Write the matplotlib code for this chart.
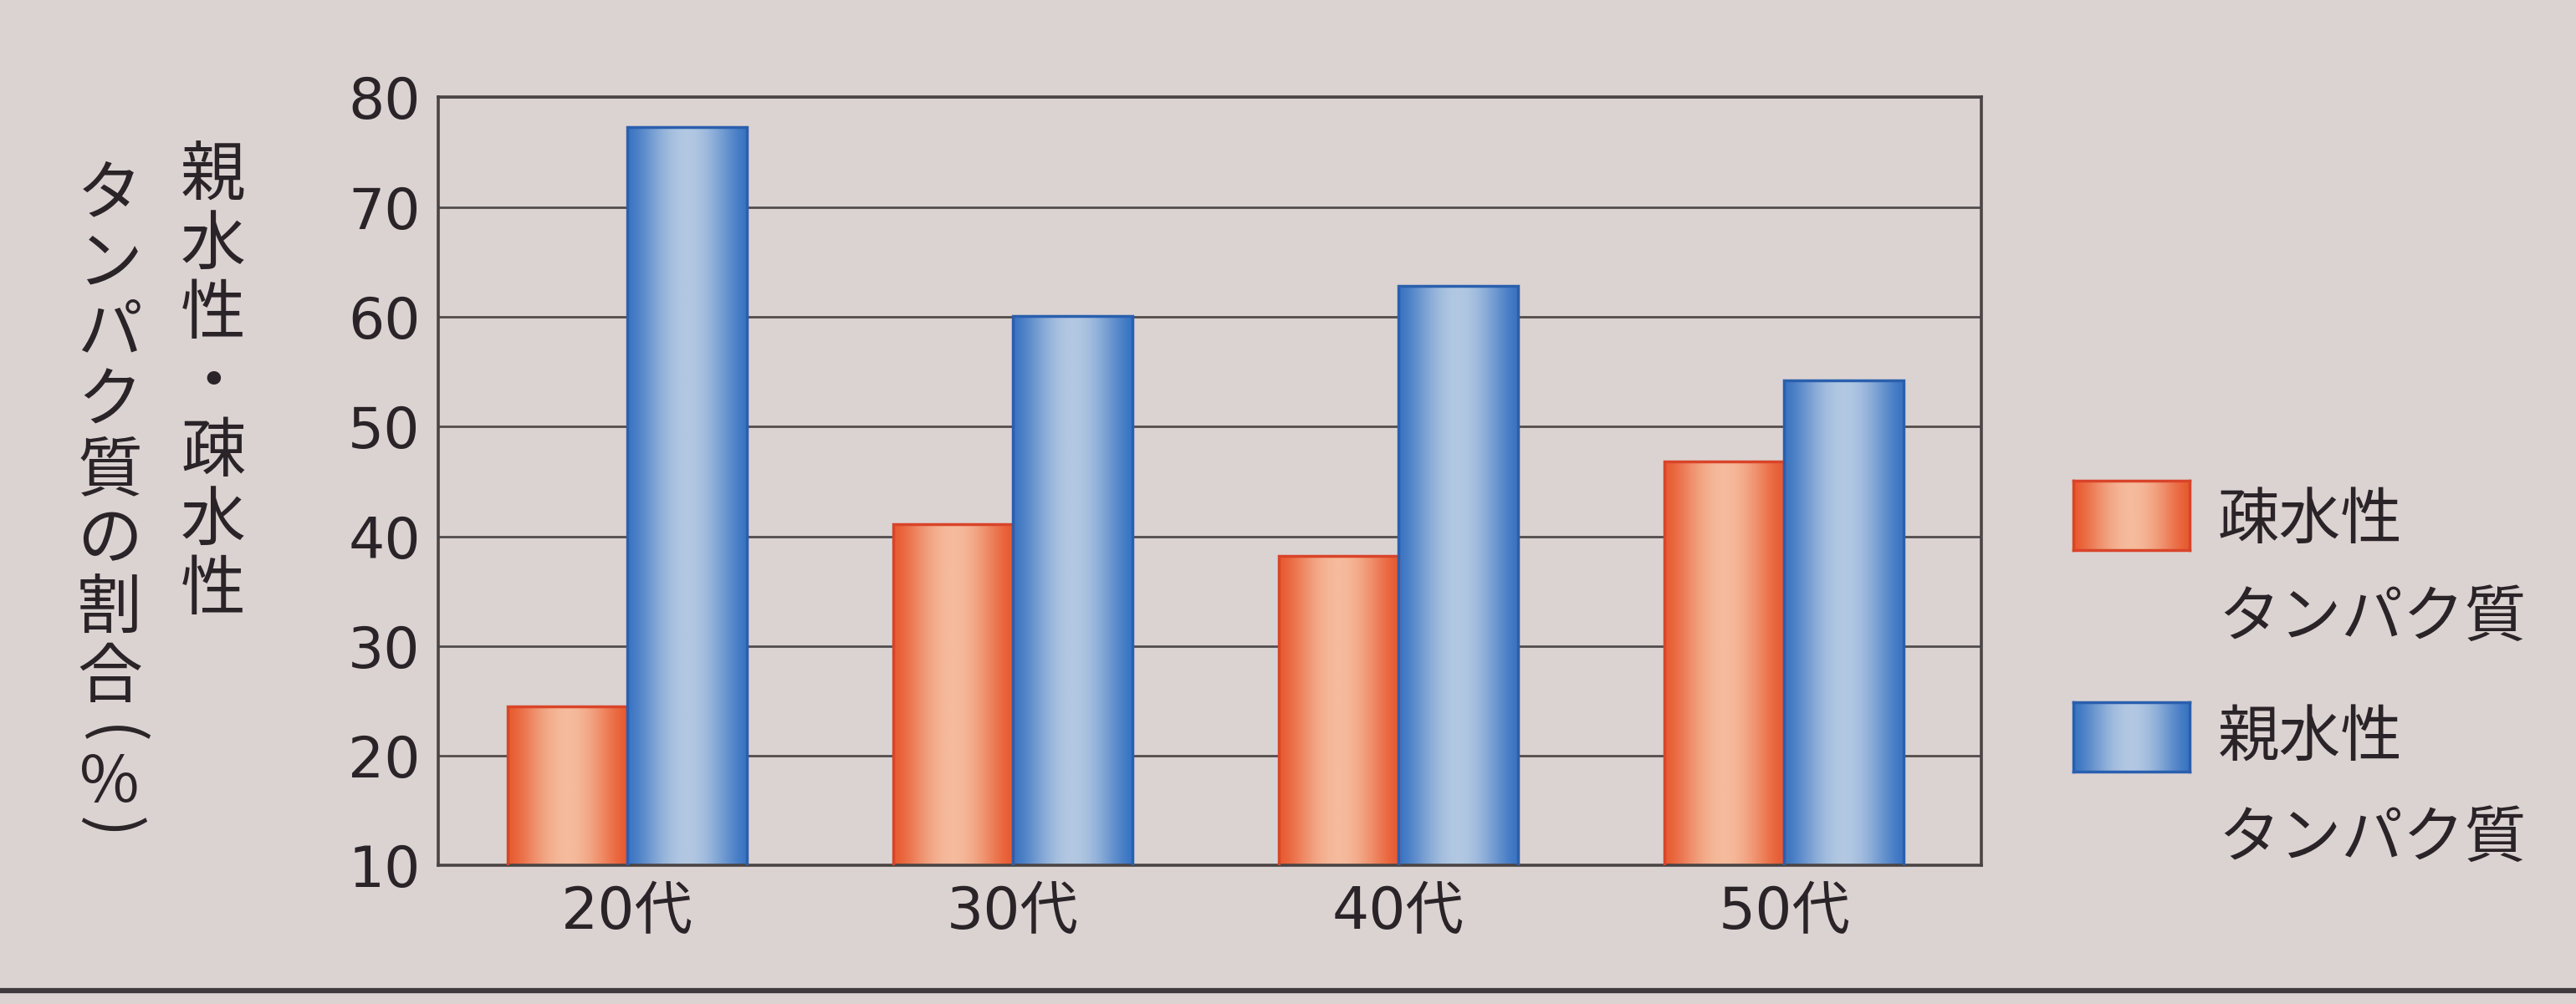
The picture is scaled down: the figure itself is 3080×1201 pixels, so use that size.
import numpy as np
import matplotlib
matplotlib.use("Agg")
import matplotlib.pyplot as plt
from matplotlib.colors import LinearSegmentedColormap
from matplotlib.lines import Line2D

plt.rcParams['font.family'] = ['Noto Sans CJK JP', 'DejaVu Sans']

# data
ages = ['20代', '30代', '40代', '50代']
hydrophobic = [24.5, 41.1, 38.2, 46.8]   # 疎水性タンパク質
hydrophilic = [77.3, 60.1, 62.8, 54.2]   # 親水性タンパク質
yticks = [10, 20, 30, 40, 50, 60, 70, 80]

bg = '#dbd3d2'
ink = '#2a2428'
orange_cmap = LinearSegmentedColormap.from_list('o', ['#e85a30', '#f5bb9c'])
blue_cmap = LinearSegmentedColormap.from_list('b', ['#3a74c2', '#b2c8e2'])
orange_edge = '#d9442a'
blue_edge = '#2a5fae'


def gradient(ax, patch, cmap):
    x0, y0 = patch.get_x(), patch.get_y()
    w, h = patch.get_width(), patch.get_height()
    ylo = max(y0, ax.get_ylim()[0])
    t = np.linspace(0, 1, 200)
    prof = np.sin(np.pi * t) ** 1.4
    im = ax.imshow(prof[None, :], cmap=cmap, vmin=0, vmax=1, aspect='auto',
                   extent=[x0, x0 + w, ylo, y0 + h], origin='lower', zorder=2.5)
    im.set_clip_path(patch)


fig = plt.figure(figsize=(30.8, 12.01), dpi=100, facecolor=bg)
ax = fig.add_axes([0.170, 0.138, 0.599, 0.765])
ax.set_facecolor(bg)

x = np.arange(len(ages))
w = 0.31
ax.set_xlim(-0.49, 3.51)
ax.set_ylim(10, 80)
b1 = ax.bar(x - w / 2, hydrophobic, w, facecolor='none', edgecolor=orange_edge, linewidth=2.5, zorder=3)
b2 = ax.bar(x + w / 2, hydrophilic, w, facecolor='none', edgecolor=blue_edge, linewidth=2.5, zorder=3)
for p in b1:
    gradient(ax, p, orange_cmap)
for p in b2:
    gradient(ax, p, blue_cmap)

ax.set_xlim(-0.49, 3.51)
ax.set_ylim(10, 80)
ax.set_yticks(yticks)
ax.set_xticks(x)
ax.set_xticklabels(ages, family=['DejaVu Sans', 'Noto Sans CJK JP'])
ax.tick_params(axis='y', length=0, pad=15, labelsize=49, labelcolor=ink)
ax.tick_params(axis='x', length=0, pad=16, labelsize=50, labelcolor=ink)
for lab in ax.get_yticklabels():
    lab.set_family(['DejaVu Sans'])
ax.yaxis.grid(True, color='#524c4c', linewidth=2.0)
ax.set_axisbelow(True)
for s in ax.spines.values():
    s.set_color('#4a4444')
    s.set_linewidth(2.6)

# vertical y-axis title, two columns
fig.text(255 / 3080, 1 - 172 / 1201, '\n'.join('親水性・疎水性'), ha='center', va='top',
         fontsize=56, color=ink, linespacing=1.05)
fig.text(131 / 3080, 1 - 194 / 1201, '\n'.join('タンパク質の割合'), ha='center', va='top',
         fontsize=56, color=ink, linespacing=1.05)
fig.text(131 / 3080, 1 - 880 / 1201, '(', rotation=-90, ha='center', va='center',
         fontsize=56, color=ink)
fig.text(131 / 3080, 1 - 937 / 1201, '%', ha='center', va='center',
         fontsize=56, color=ink)
fig.text(131 / 3080, 1 - 990 / 1201, ')', rotation=-90, ha='center', va='center',
         fontsize=56, color=ink)

# legend
entries = [(orange_cmap, orange_edge, '疎水性', 575, 623, 740),
           (blue_cmap, blue_edge, '親水性', 840, 884, 1004)]
for cmap, edge, name, top, y1, y2 in entries:
    lax = fig.add_axes([2479 / 3080, 1 - (top + 83) / 1201, 139 / 3080, 83 / 1201])
    t = np.linspace(0, 1, 200)
    lax.imshow((np.sin(np.pi * t) ** 1.4)[None, :], cmap=cmap, vmin=0, vmax=1, aspect='auto')
    lax.set_xticks([])
    lax.set_yticks([])
    for s in lax.spines.values():
        s.set_color(edge)
        s.set_linewidth(2.5)
    fig.text(2652 / 3080, 1 - y1 / 1201, name, ha='left', va='center', fontsize=53, color=ink)
    fig.text(2652 / 3080, 1 - y2 / 1201, 'タンパク質', ha='left', va='center', fontsize=53, color=ink)

fig.add_artist(Line2D([0, 1], [1 - 1185 / 1201] * 2, color='#3e3a3e', linewidth=4.5))

fig.savefig('out.png', dpi=100, facecolor=bg)
